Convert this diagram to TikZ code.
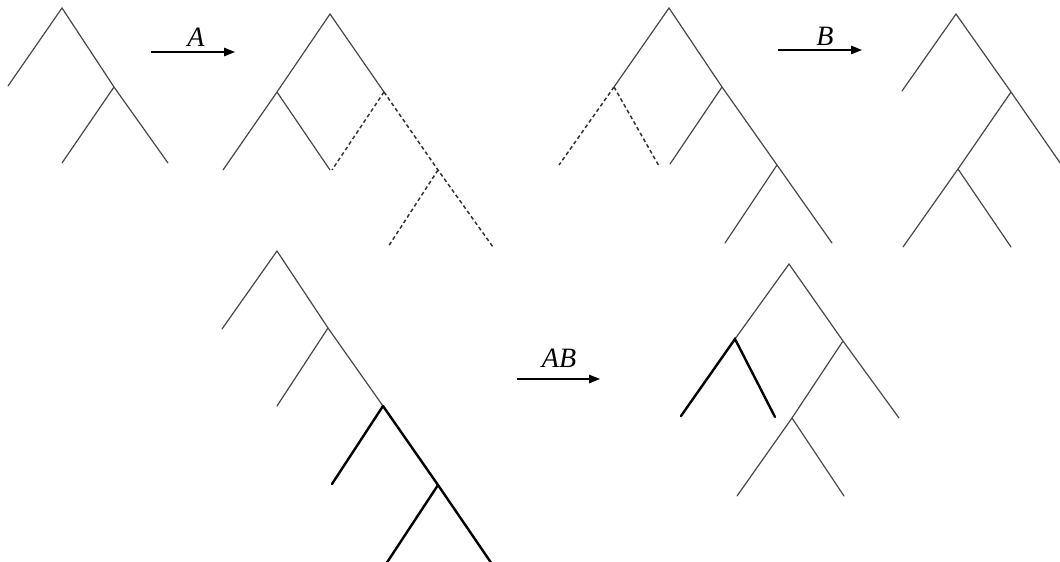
\documentclass[tikz,border=0pt]{standalone}
\usepackage{fontspec}
\setmainfont{Liberation Serif}
\usetikzlibrary{arrows.meta}
\tikzset{
  x=1pt, y=-1pt,
  thin edge/.style={line width=1.2pt, draw=black!72, line cap=round},
  dash edge/.style={line width=1.5pt, draw=black!80, dash pattern=on 3.8pt off 2.8pt},
  bold edge/.style={line width=2.4pt, draw=black, line cap=round},
  map arrow/.style={line width=1.2pt, -{Triangle[length=11pt,width=8.5pt]}},
  map label/.style={font=\fontsize{28}{32}\selectfont\itshape, inner sep=0pt}
}
\begin{document}
\begin{tikzpicture}
\useasboundingbox (0,0) rectangle (1060,562);
\clip (0,0) rectangle (1060,562);
% ---------- Tree 1 ----------
\coordinate (t1a) at (62,8);
\coordinate (t1l) at (8,86);
\coordinate (t1j) at (114,87);
\coordinate (t1r) at (168,163);
\coordinate (t1m) at (62,163);
\draw[thin edge] (t1l) -- (t1a) -- (t1j) -- (t1r);
\draw[thin edge] (t1j) -- (t1m);
% ---------- Arrow A ----------
\coordinate (aS) at (151,52);
\coordinate (aE) at (235,52);
\draw[map arrow] (aS) -- (aE);
\node[map label] (aL) at (196,37) {A};
% ---------- Tree 2 ----------
\coordinate (t2a) at (330,14);
\coordinate (t2lj) at (277,92);
\coordinate (t2le) at (223,170);
\coordinate (t2lm) at (330,170);
\coordinate (t2rj) at (384,92);
\coordinate (t2dm) at (332,170);
\coordinate (t2dj) at (438,170);
\coordinate (t2dl) at (388,247);
\coordinate (t2dr) at (493,247);
\draw[thin edge] (t2le) -- (t2lj) -- (t2a) -- (t2rj);
\draw[thin edge] (t2lj) -- (t2lm);
\draw[dash edge] (t2rj) -- (t2dm);
\draw[dash edge] (t2rj) -- (t2dj) -- (t2dr);
\draw[dash edge] (t2dj) -- (t2dl);
% ---------- Tree 3 ----------
\coordinate (t3a) at (669,8);
\coordinate (t3lj) at (614,87);
\coordinate (t3dl) at (559,165);
\coordinate (t3dr) at (659,166);
\coordinate (t3rj) at (722,87);
\coordinate (t3rm) at (670,164);
\coordinate (t3rj2) at (777,165);
\coordinate (t3el) at (725,243);
\coordinate (t3er) at (832,243);
\draw[thin edge] (t3lj) -- (t3a) -- (t3rj) -- (t3rj2) -- (t3er);
\draw[thin edge] (t3rj) -- (t3rm);
\draw[thin edge] (t3rj2) -- (t3el);
\draw[dash edge] (t3lj) -- (t3dl);
\draw[dash edge] (t3lj) -- (t3dr);
% ---------- Arrow B ----------
\coordinate (bS) at (778,50);
\coordinate (bE) at (862,50);
\draw[map arrow] (bS) -- (bE);
\node[map label] (bL) at (825,36) {B};
% ---------- Tree 4 ----------
\coordinate (t4a) at (956,14);
\coordinate (t4le) at (902,91);
\coordinate (t4rj) at (1011,92);
\coordinate (t4re) at (1065,170);
\coordinate (t4j) at (958,169);
\coordinate (t4el) at (903,247);
\coordinate (t4er) at (1011,247);
\draw[thin edge] (t4le) -- (t4a) -- (t4rj) -- (t4re);
\draw[thin edge] (t4rj) -- (t4j) -- (t4el);
\draw[thin edge] (t4j) -- (t4er);
% ---------- Tree 5 ----------
\coordinate (t5a) at (277,251);
\coordinate (t5le) at (222,329);
\coordinate (t5j1) at (328,328);
\coordinate (t5m1) at (277,406);
\coordinate (t5j2) at (383,406);
\coordinate (t5bl) at (332,484);
\coordinate (t5j3) at (438,485);
\coordinate (t5el) at (384,567);
\coordinate (t5er) at (494,567);
\draw[thin edge] (t5le) -- (t5a) -- (t5j1) -- (t5j2);
\draw[thin edge] (t5j1) -- (t5m1);
\draw[bold edge] (t5j2) -- (t5bl);
\draw[bold edge] (t5j2) -- (t5j3) -- (t5er);
\draw[bold edge] (t5j3) -- (t5el);
% ---------- Arrow AB ----------
\coordinate (abS) at (517,379);
\coordinate (abE) at (600,379);
\draw[map arrow] (abS) -- (abE);
\node[map label] (abL) at (559,358) {AB};
% ---------- Tree 6 ----------
\coordinate (t6a) at (789,264);
\coordinate (t6lj) at (735,339);
\coordinate (t6bl) at (681,416);
\coordinate (t6br) at (775,417);
\coordinate (t6rj) at (843,341);
\coordinate (t6re) at (899,418);
\coordinate (t6j) at (792,418);
\coordinate (t6el) at (737,496);
\coordinate (t6er) at (844,496);
\draw[thin edge] (t6lj) -- (t6a) -- (t6rj) -- (t6re);
\draw[thin edge] (t6rj) -- (t6j) -- (t6el);
\draw[thin edge] (t6j) -- (t6er);
\draw[bold edge] (t6bl) -- (t6lj) -- (t6br);
\end{tikzpicture}
\end{document}
